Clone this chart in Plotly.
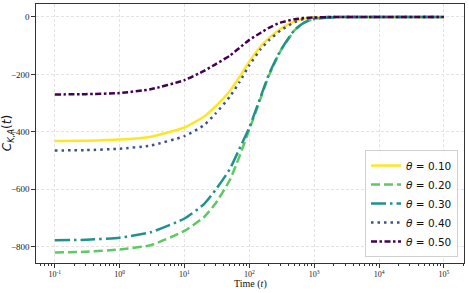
import plotly.graph_objects as go

# sample times (log-spaced) and values
time = [0.1, 0.3, 1, 3, 10, 20, 30, 50, 70, 100, 150, 200, 300, 500, 700, 1000, 2000, 10000, 100000]

c_010 = [-432, -431, -427, -417, -385, -347, -312, -258, -210, -155, -102, -74, -42, -15, -6, -2, 0, 0, 0]
c_020 = [-820, -818, -810, -795, -745, -697, -650, -568, -487, -392, -282, -205, -120, -46, -20, -7, -1, 0, 0]
c_030 = [-778, -776, -769, -750, -702, -652, -603, -530, -460, -385, -277, -200, -118, -45, -20, -7, -1, 0, 0]
c_040 = [-465, -464, -459, -448, -415, -377, -337, -278, -228, -168, -112, -82, -48, -18, -7, -2, 0, 0, 0]
c_050 = [-270, -269, -265, -252, -220, -188, -165, -135, -108, -80, -55, -38, -20, -8, -4, -2, 0, 0, 0]

labels = ["0.10", "0.20", "0.30", "0.40", "0.50"]
series = [c_010, c_020, c_030, c_040, c_050]
colors = ["#fde725", "#5ec962", "#21918c", "#3b528b", "#440154"]
dashes = ["solid", "9px,4px", "15px,4px,2.5px,4px", "2.5px,4px", "6px,2.5px,2.5px,2.5px"]

x_tickvals = [0.1, 1, 10, 100, 1000, 10000, 100000]
x_ticktext = ["10<sup>-1</sup>", "10<sup>0</sup>", "10<sup>1</sup>", "10<sup>2</sup>",
              "10<sup>3</sup>", "10<sup>4</sup>", "10<sup>5</sup>"]
y_tickvals = [0, -200, -400, -600, -800]
y_ticktext = ["0", "\u2212200", "\u2212400", "\u2212600", "\u2212800"]

fig = go.Figure()
for lab, vals, col, dsh in zip(labels, series, colors, dashes):
    fig.add_trace(go.Scatter(
        x=time, y=vals, mode="lines", name=f"<i>θ</i> = {lab}",
        line=dict(color=col, width=2.5, dash=dsh, shape="spline", smoothing=0.5),
    ))

serif = "Liberation Serif, Times New Roman, serif"
sans = "DejaVu Sans, sans-serif"

fig.update_layout(
    width=469, height=293,
    margin=dict(l=36, r=5, t=4, b=30),
    paper_bgcolor="white", plot_bgcolor="white",
    showlegend=True,
    legend=dict(
        x=0.986, y=0.023, xanchor="right", yanchor="bottom",
        bgcolor="rgba(255,255,255,0.85)", bordercolor="#d0d0d0", borderwidth=1,
        font=dict(family=sans, size=10.5, color="#111"),
        tracegroupgap=0, itemwidth=30,
    ),
    xaxis=dict(
        type="log", range=[-1.29, 5.31],
        tickvals=x_tickvals, ticktext=x_ticktext,
        ticks="outside", ticklen=3.5, tickwidth=0.8, tickcolor="#333",
        tickfont=dict(family=serif, size=8, color="#222"),
        showline=True, linecolor="#333", linewidth=1.2, mirror=True,
        showgrid=True, gridcolor="#e3e3e3", griddash="3px,2px", gridwidth=0.8,
        zeroline=False,
        minor=dict(ticks="outside", ticklen=2, tickwidth=0.6, tickcolor="#333",
                   dtick="D1", showgrid=False),
    ),
    yaxis=dict(
        range=[-857, 45],
        tickvals=y_tickvals, ticktext=y_ticktext,
        ticks="outside", ticklen=3.5, tickwidth=0.8, tickcolor="#333",
        tickfont=dict(family=serif, size=9, color="#222"),
        showline=True, linecolor="#333", linewidth=1.2, mirror=True,
        showgrid=True, gridcolor="#e3e3e3", griddash="3px,2px", gridwidth=0.8,
        zeroline=False,
    ),
    annotations=[
        dict(text="<i>C</i><sub><i>K,A</i></sub>(<i>t</i>)", xref="paper", yref="paper",
             x=-0.066, y=0.5, xanchor="center", yanchor="middle", textangle=-90,
             showarrow=False, font=dict(family=sans, size=12, color="#111")),
        dict(text="Time (<i>t</i>)", xref="paper", yref="paper",
             x=0.5, y=-0.083, xanchor="center", yanchor="middle",
             showarrow=False, font=dict(family=serif, size=10, color="#111")),
    ],
)

fig.write_html("out.html", config={"displayModeBar": False},
               post_script="document.body.style.margin='0';")
